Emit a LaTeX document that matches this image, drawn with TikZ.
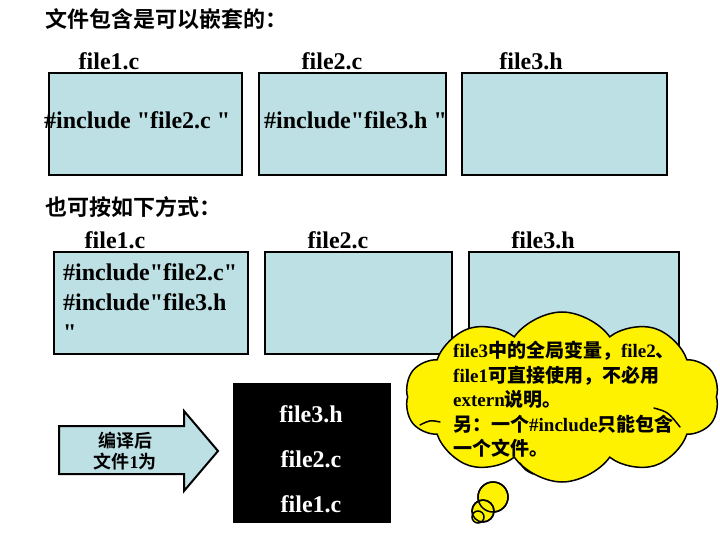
\documentclass[tikz,border=0pt]{standalone}
\usepackage{fontspec}
\setmainfont{Liberation Serif}[Ligatures=TeXOff]
\newfontfamily\zh{Noto Sans CJK SC Bold}
\usetikzlibrary{shapes.symbols}
\definecolor{boxblue}{RGB}{189,224,228}
\begin{document}
\begin{tikzpicture}[x=1pt,y=-1pt,
  fbox/.style={draw=black, line width=2pt, fill=boxblue, anchor=north west, inner sep=0pt},
  lbl/.style={font=\fontsize{24}{28}\selectfont\bfseries, inner sep=0pt, anchor=base},
  ttl/.style={font=\zh\fontsize{22}{26}\selectfont, inner sep=0pt, anchor=base west},
  wlbl/.style={lbl, text=white},
  cltxt/.style={font=\fontsize{19}{24.5}\selectfont\bfseries, inner sep=0pt, align=left, anchor=north west},
  tail/.style={draw=black, line width=1.5pt, fill=yellow},
  crease/.style={draw=black, line width=1.5pt, line cap=round}
]
\useasboundingbox (0,0) rectangle (720,540);

% titles
\node[ttl] (t1) at (45,28) {文件包含是可以嵌套的：};
\node[ttl] (t2) at (45,215) {也可按如下方式：};

% row 1
\node[lbl] (l11) at (109,70) {file1.c};
\node[lbl] (l12) at (332,70) {file2.c};
\node[lbl] (l13) at (531,70) {file3.h};
\node[fbox, minimum width=193pt, minimum height=102pt] (b11) at (48,72) {};
\node[fbox, minimum width=187pt, minimum height=102pt] (b12) at (258,72) {};
\node[fbox, minimum width=205pt, minimum height=102pt] (b13) at (461,72) {};
\node[lbl, anchor=base west] (i11) at (44,129) {\#include "file2.c "};
\node[lbl, anchor=base west] (i12) at (264,129) {\#include"file3.h "};

% row 2
\node[lbl] (l21) at (115,248) {file1.c};
\node[lbl] (l22) at (338,248) {file2.c};
\node[lbl] (l23) at (543,248) {file3.h};
\node[fbox, minimum width=194pt, minimum height=102pt] (b21) at (53,251) {};
\node[fbox, minimum width=187pt, minimum height=102pt] (b22) at (264,251) {};
\node[fbox, minimum width=210pt, minimum height=102pt] (b23) at (468,251) {};
\node[lbl, anchor=base west] (i21) at (63,280) {\#include"file2.c"};
\node[lbl, anchor=base west] (i22) at (63,310) {\#include"file3.h};
\node[lbl, anchor=base west] (i23) at (63,340) {"};

% arrow
\draw[draw=black, line width=2pt, fill=boxblue, line join=miter]
  (59,426) -- (184,426) -- (184,411) -- (218,451) -- (184,491) -- (184,474) -- (59,474) -- cycle;
\node[font=\zh\fontsize{18}{21}\selectfont, align=center, inner sep=0pt] (at) at (125,451) {编译后\\文件{\rmfamily\bfseries 1}为};

% black box
\node[fill=black, minimum width=158pt, minimum height=140pt, inner sep=0pt] (bb) at (312,453) {};
\node[wlbl] (w1) at (311,422) {file3.h};
\node[wlbl] (w2) at (311,467) {file2.c};
\node[wlbl] (w3) at (311,512) {file1.c};

% cloud
\node[tail, circle, minimum size=30pt, inner sep=0pt] (c1) at (493,497) {};
\node[tail, circle, minimum size=22pt, inner sep=0pt] (c2) at (483,511) {};
\node[tail, circle, minimum size=12pt, inner sep=0pt] (c3) at (478,517) {};
\draw[line width=1.5pt] (c1.center) circle (15pt);
\draw[line width=1.5pt] (c2.center) circle (11pt);
\node[cloud, cloud puffs=10, cloud puff arc=110, aspect=1.9, draw=black, line width=1.5pt, fill=yellow,
      minimum width=314pt, minimum height=170pt, inner sep=0pt] (cl) at (562,397) {};
\draw[crease] (680,427) .. controls (668,412) .. (654,408);
\draw[crease] (520,463) .. controls (525,470) .. (533,474);
\draw[crease] (420,425) .. controls (430,420) .. (440,422);
\node[cltxt] (ct) at (453,341) {file3{\zh 中的全局变量，}file2{\zh 、}\\
file1{\zh 可直接使用，不必用}\\
extern{\zh 说明。}\\
{\zh 另：一个}\#include{\zh 只能包含}\\
{\zh 一个文件。}};
\end{tikzpicture}
\end{document}
